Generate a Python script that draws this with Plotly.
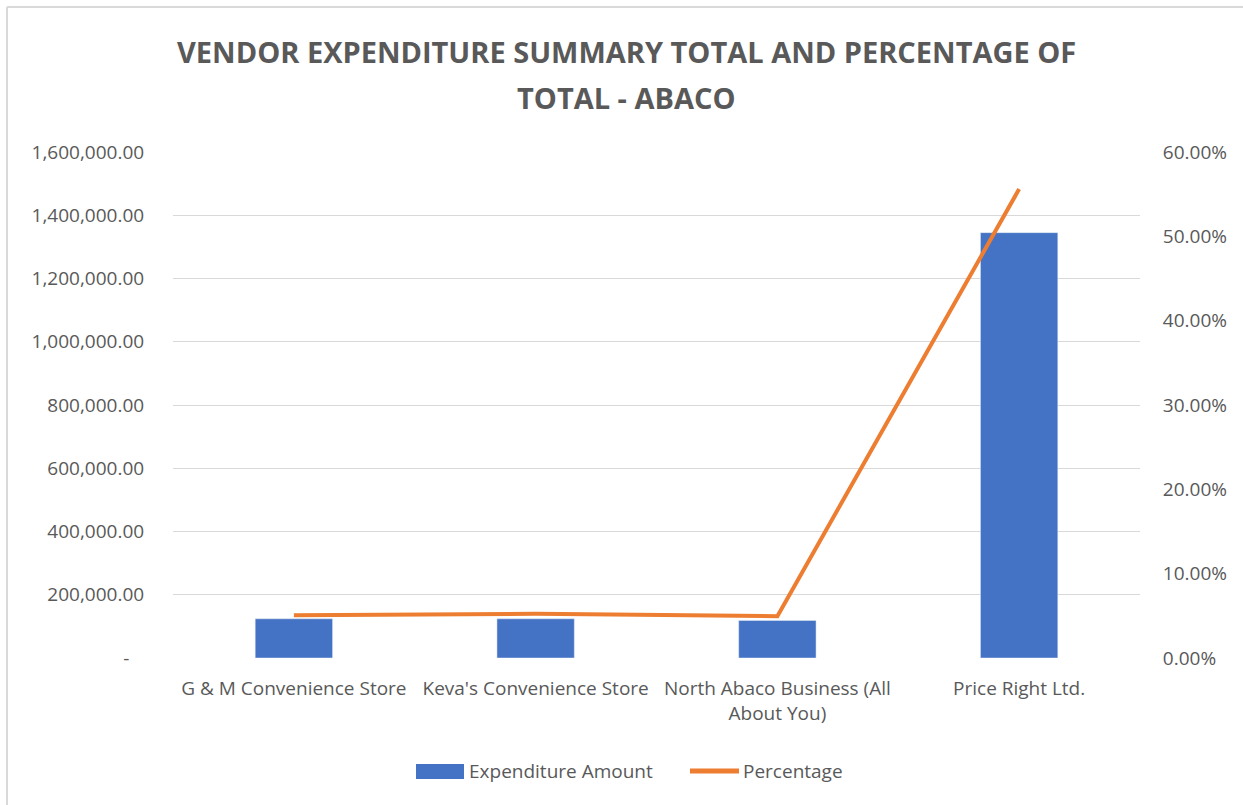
import plotly.graph_objects as go

categories = ["G & M Convenience Store", "Keva's Convenience Store",
              "North Abaco Business (All<br>About You)", "Price Right Ltd."]
expenditure = [124000, 124000, 118500, 1345000]
percentage = [0.0508, 0.0524, 0.0496, 0.556]
left_tickvals = [0, 200000, 400000, 600000, 800000, 1000000, 1200000, 1400000, 1600000]
left_ticktext = ["-\u00a0\u00a0\u00a0", "200,000.00", "400,000.00", "600,000.00", "800,000.00",
                 "1,000,000.00", "1,200,000.00", "1,400,000.00", "1,600,000.00"]
title_lines = ["VENDOR EXPENDITURE SUMMARY TOTAL AND PERCENTAGE OF", "TOTAL - ABACO"]
series_names = ["Expenditure Amount", "Percentage"]

W, H = 1243, 805
L, R, T, B = 173, 1140, 152, 658
FONT = "Open Sans"
GRAY = "#595959"
BLUE = "#4472C4"
ORANGE = "#ED7D31"

def px_x(p):
    return (p - L) / (R - L)

def px_y(p):
    return (B - p) / (B - T)

fig = go.Figure()
fig.add_trace(go.Bar(x=categories, y=expenditure, name=series_names[0],
                     marker_color=BLUE, yaxis="y", showlegend=False))
fig.add_trace(go.Scatter(x=categories, y=percentage, name=series_names[1], mode="lines",
                         line=dict(color=ORANGE, width=4), yaxis="y2", showlegend=False))

annotations = [
    dict(text="<b>%s</b>" % title_lines[0], xref="paper", yref="paper",
         x=px_x(626), y=px_y(51), xanchor="center", yanchor="middle", showarrow=False,
         font=dict(family=FONT, size=29, color=GRAY)),
    dict(text="<b>%s</b>" % title_lines[1], xref="paper", yref="paper",
         x=px_x(626), y=px_y(98), xanchor="center", yanchor="middle", showarrow=False,
         font=dict(family=FONT, size=29, color=GRAY)),
    dict(text=series_names[0], xref="paper", yref="paper",
         x=px_x(467), y=px_y(771), xanchor="left", yanchor="middle", showarrow=False,
         font=dict(family=FONT, size=19, color=GRAY)),
    dict(text=series_names[1], xref="paper", yref="paper",
         x=px_x(741), y=px_y(771), xanchor="left", yanchor="middle", showarrow=False,
         font=dict(family=FONT, size=19, color=GRAY)),
]

shapes = [
    dict(type="line", xref="paper", yref="paper", x0=px_x(7), x1=px_x(W + 5),
         y0=px_y(7), y1=px_y(7), line=dict(color="#D9D9D9", width=2)),
    dict(type="line", xref="paper", yref="paper", x0=px_x(7), x1=px_x(7),
         y0=px_y(7), y1=px_y(H + 5), line=dict(color="#D9D9D9", width=2)),
    dict(type="rect", xref="paper", yref="paper", x0=px_x(416), x1=px_x(464),
         y0=px_y(764), y1=px_y(779), fillcolor=BLUE, line=dict(width=0)),
    dict(type="line", xref="paper", yref="paper", x0=px_x(690), x1=px_x(739),
         y0=px_y(771), y1=px_y(771), line=dict(color=ORANGE, width=5)),
]

fig.update_layout(
    width=W, height=H,
    margin=dict(l=L, r=W - R, t=T, b=H - B),
    paper_bgcolor="white", plot_bgcolor="white",
    font=dict(family=FONT, color=GRAY, size=19),
    bargap=0.68,
    showlegend=False,
    xaxis=dict(showgrid=False, showline=False, ticks="outside", ticklen=13,
               tickcolor="rgba(0,0,0,0)", tickfont=dict(size=19, color=GRAY)),
    yaxis=dict(range=[0, 1600000], tickvals=left_tickvals, ticktext=left_ticktext,
               showgrid=True, gridcolor="#D9D9D9", gridwidth=1.3, zeroline=False,
               ticks="outside", ticklen=24, tickcolor="rgba(0,0,0,0)",
               tickfont=dict(size=19, color=GRAY)),
    yaxis2=dict(range=[0, 0.6], dtick=0.1, tickformat=".2%", overlaying="y", side="right",
                showgrid=False, zeroline=False, ticks="outside", ticklen=18,
                tickcolor="rgba(0,0,0,0)", tickfont=dict(size=19, color=GRAY)),
    annotations=annotations,
    shapes=shapes,
)

fig.write_html("out.html")
